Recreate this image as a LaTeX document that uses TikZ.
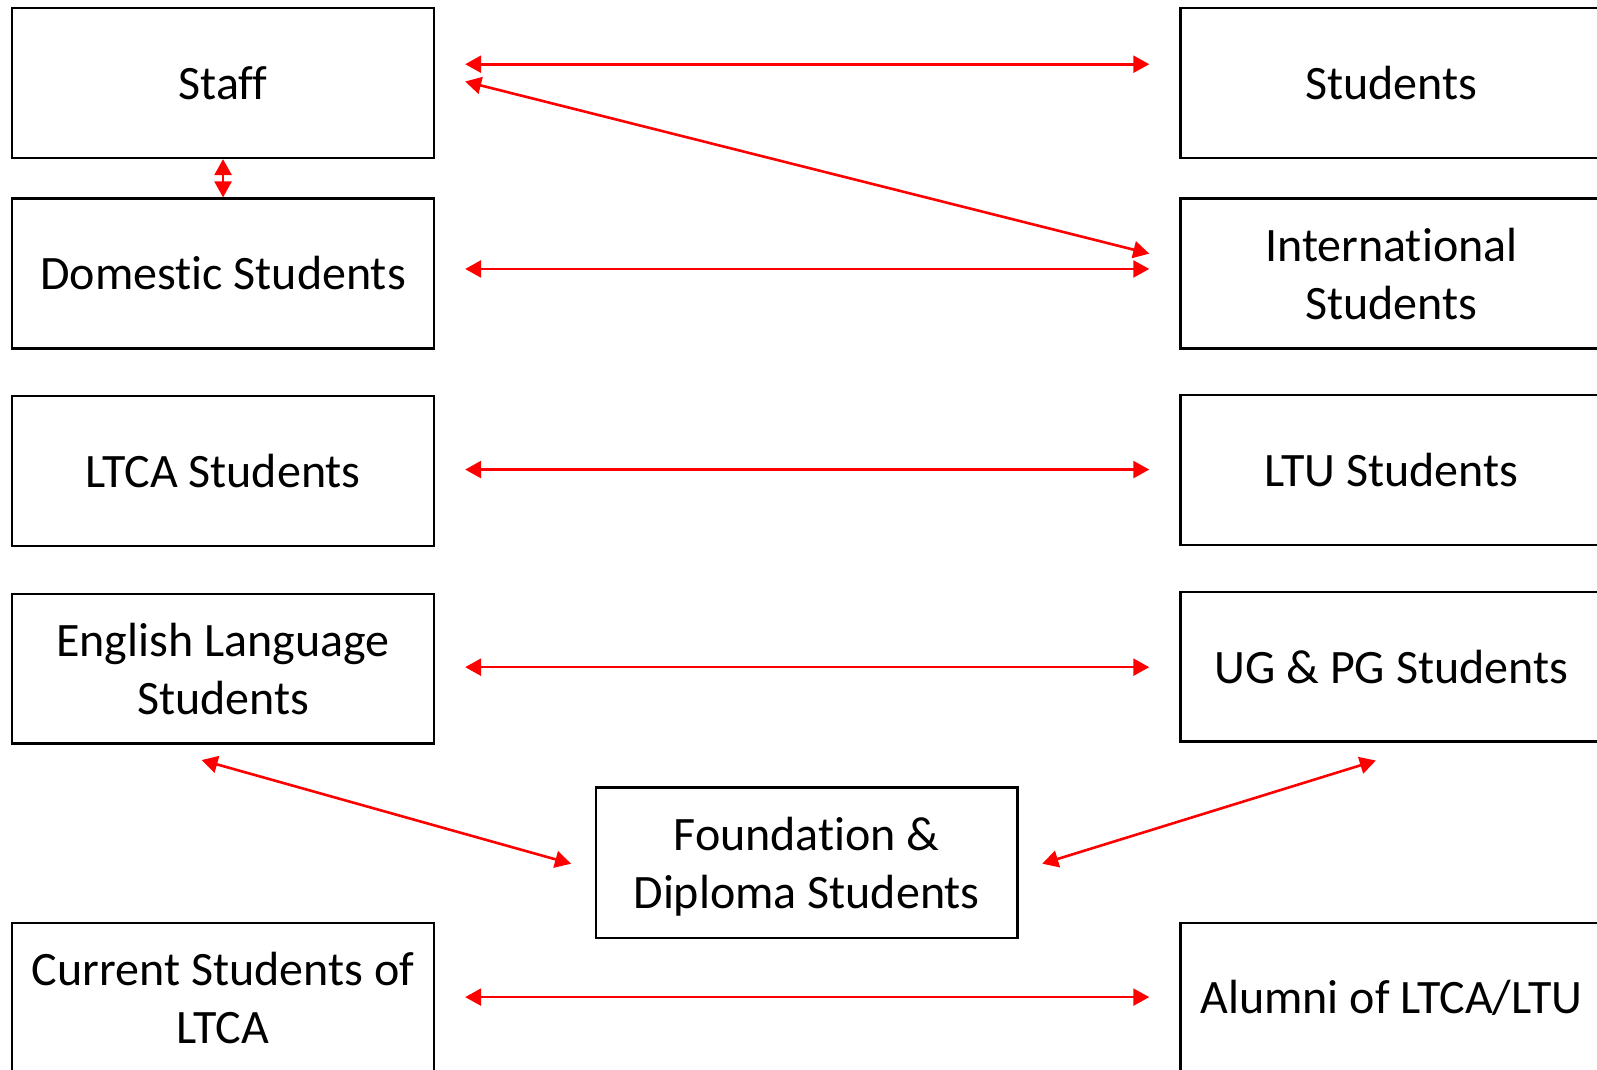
\documentclass[tikz,border=0pt]{standalone}
\usepackage{fontspec}
\setmainfont[Ligatures={NoCommon}]{Carlito}
\usetikzlibrary{arrows.meta,calc}
\newcommand{\twoline}[2]{\raisebox{0pt}[40pt][63.4pt]{\begin{tabular}[t]{@{}c@{}}#1\\#2\end{tabular}}}
\begin{document}
\begin{tikzpicture}[x=1pt,y=-1pt,
  box/.style={draw=black,line width=2.5pt,minimum width=421.7pt,minimum height=149.7pt,
    align=center,inner sep=0pt,font=\fontsize{48}{58}\selectfont},
  arr/.style={draw={rgb,255:red,255;green,0;blue,0},line width=2.6pt,
    {Triangle[length=16pt,width=17pt]}-{Triangle[length=16pt,width=17pt]}}]
\useasboundingbox (0,0) rectangle (1597,1069);
\clip (0,0) rectangle (1597,1069);
\fill[white] (0,0) rectangle (1597,1069);
% left column
\node[box] (staff) at (223.05,83.0) {Staff};
\node[box] (domestic) at (223.05,273.45) {Domestic Students};
\node[box] (ltca) at (223.05,471.05) {LTCA Students};
\node[box] (english) at (223.05,668.65) {English Language\\Students};
\node[box] (current) at (223.05,997.6) {Current Students of\\LTCA};
% right column
\node[box] (students) at (1391.35,83.0) {Students};
\node[box] (intl) at (1391.35,273.45) {\twoline{International}{Students}};
\node[box] (ltu) at (1391.35,470.05) {LTU Students};
\node[box] (ug) at (1391.35,666.65) {UG \& PG Students};
\node[box] (alumni) at (1391.35,997.6) {Alumni of LTCA/LTU};
% middle
\node[box,minimum height=150.7pt] (found) at (806.65,862.65) {\twoline{Foundation \&}{Diploma Students}};
% connectors
\draw[arr] ([xshift=30pt,yshift=18.8pt]staff.east) -- ([xshift=-30pt,yshift=18.8pt]students.west);
\draw[arr] ([xshift=30pt,yshift=1.5pt]staff.east) -- ([xshift=-30pt,yshift=19.85pt]intl.west);
\draw[arr] (staff.south) -- (domestic.north);
\draw[arr] ([xshift=30pt,yshift=4.5pt]domestic.east) -- ([xshift=-30pt,yshift=4.5pt]intl.west);
\draw[arr] ([xshift=30pt,yshift=1.5pt]ltca.east) -- ([xshift=-30pt,yshift=0.5pt]ltu.west);
\draw[arr] ([xshift=30pt,yshift=1.5pt]english.east) -- ([xshift=-30pt,yshift=-0.5pt]ug.west);
\draw[arr] ([xshift=30pt,yshift=0.5pt]current.east) -- ([xshift=-30pt,yshift=0.5pt]alumni.west);
\draw[arr] ([xshift=-21.5pt,yshift=-15.3pt]english.south) -- ([xshift=-23.5pt,yshift=-1.05pt]found.west);
\draw[arr] ([xshift=-15.5pt,yshift=-17.8pt]ug.south) -- ([xshift=23.5pt,yshift=-1.05pt]found.east);
\end{tikzpicture}
\end{document}
